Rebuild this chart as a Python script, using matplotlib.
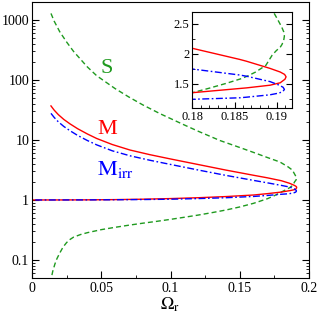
import matplotlib
matplotlib.use('Agg')
import matplotlib.pyplot as plt
from matplotlib.ticker import FixedLocator, MultipleLocator, FormatStrFormatter, NullFormatter, LogLocator

plt.rcParams['font.family'] = ['Liberation Serif', 'DejaVu Serif']
plt.rcParams['mathtext.fontset'] = 'stix'

# M : upper branch (Omega increasing) then lower branch back to 0
om_m_up = [0.0137, 0.016, 0.019, 0.023, 0.0274, 0.033, 0.040, 0.0467, 0.058, 0.0708, 0.085,
           0.0996, 0.120, 0.140, 0.160, 0.170, 0.180, 0.1856, 0.1864, 0.1892, 0.1904,
           0.19092, 0.1911]
m_up = [37.0, 31.5, 26.5, 22.0, 18.6, 15.4, 12.6, 10.6, 8.4, 6.8, 5.7,
        4.85, 3.9, 3.15, 2.58, 2.34, 2.095, 1.91, 1.88, 1.76, 1.70,
        1.66, 1.62]
om_m_lo = [0.19097, 0.1904, 0.1892, 0.1864, 0.1856, 0.1800, 0.1700, 0.1600, 0.1400, 0.1200,
           0.1000, 0.0800, 0.0600, 0.0400, 0.0200, 0.0]
m_lo = [1.58, 1.52, 1.48, 1.435, 1.425, 1.355, 1.275, 1.21, 1.14, 1.09,
        1.055, 1.03, 1.014, 1.005, 1.001, 1.0]

# M_irr
om_mi_up = [0.0137, 0.016, 0.019, 0.023, 0.0274, 0.033, 0.040, 0.0467, 0.058, 0.0708, 0.085,
            0.0996, 0.120, 0.140, 0.160, 0.170, 0.180, 0.1856, 0.1864, 0.1892, 0.1903,
            0.19075, 0.1909]
mi_up = [27.8, 23.8, 20.1, 16.8, 14.3, 11.9, 9.8, 8.3, 6.6, 5.45, 4.6,
         3.93, 3.16, 2.57, 2.12, 1.93, 1.75, 1.65, 1.63, 1.54, 1.48,
         1.445, 1.41]
om_mi_lo = [0.19075, 0.1903, 0.1892, 0.1864, 0.1856, 0.1800, 0.1700, 0.1600, 0.1400, 0.1200,
            0.1000, 0.0800, 0.0600, 0.0400, 0.0200, 0.0]
mi_lo = [1.38, 1.35, 1.32, 1.28, 1.27, 1.245, 1.19, 1.145, 1.09, 1.055,
         1.03, 1.017, 1.008, 1.003, 1.001, 1.0]

# S
om_s_up = [0.0137, 0.016, 0.020, 0.025, 0.030, 0.040, 0.0467, 0.060, 0.070, 0.080, 0.0924,
           0.100, 0.110, 0.120, 0.1357, 0.150, 0.160, 0.170, 0.179, 0.185, 0.188,
           0.18956, 0.1900, 0.19035, 0.19058, 0.19082, 0.1909]
s_up = [1290, 960, 640, 430, 300, 165, 118, 72, 52, 38.5, 27.5,
        22.8, 17.8, 14.0, 9.8, 7.5, 6.2, 5.1, 4.3, 3.55, 3.15,
        2.71, 2.60, 2.51, 2.45, 2.37, 2.30]
om_s_lo = [0.19082, 0.19062, 0.19044, 0.1899, 0.18945, 0.1887, 0.1875, 0.1865, 0.1857, 0.184,
           0.182, 0.180, 0.175, 0.170, 0.160, 0.150, 0.140, 0.130, 0.120, 0.110,
           0.100, 0.090, 0.080, 0.070, 0.060, 0.050, 0.040, 0.035, 0.030, 0.0275,
           0.025, 0.0225, 0.020, 0.018, 0.0165, 0.015, 0.0137]
s_lo = [2.23, 2.16, 2.12, 2.05, 1.98, 1.81, 1.70, 1.63, 1.585, 1.51,
        1.43, 1.355, 1.18, 1.05, 0.88, 0.765, 0.68, 0.615, 0.56, 0.515,
        0.475, 0.44, 0.41, 0.38, 0.35, 0.32, 0.285, 0.265, 0.24, 0.22,
        0.195, 0.165, 0.13, 0.105, 0.085, 0.065, 0.047]

red = '#ff0000'
blue = '#0000ff'
green = '#1f9a1f'

curves = [
    (om_s_up + om_s_lo, s_up + s_lo, green, (0, (3.6, 2.2))),
    (om_m_up + om_m_lo, m_up + m_lo, red, '-'),
    (om_mi_up + om_mi_lo, mi_up + mi_lo, blue, (0, (5, 1.8, 1.2, 1.8))),
]

fig = plt.figure(figsize=(3.19, 3.14), dpi=100)
ax = fig.add_axes([32/319, 1-278/314, 277/319, 276/314])

for x, y, c, ls in curves:
    ax.plot(x, y, color=c, ls=ls, lw=1.0)

ax.set_yscale('log')
ax.set_xlim(0, 0.2)
ax.set_ylim(0.05, 2000)
ax.xaxis.set_major_locator(MultipleLocator(0.05))
ax.xaxis.set_minor_locator(MultipleLocator(0.025))
ax.xaxis.set_major_formatter(FormatStrFormatter('%g'))
ax.yaxis.set_major_locator(FixedLocator([0.1, 1, 10, 100, 1000]))
ax.yaxis.set_major_formatter(FormatStrFormatter('%g'))
ax.yaxis.set_minor_locator(LogLocator(base=10, subs=range(2, 10)))
ax.yaxis.set_minor_formatter(NullFormatter())
ax.tick_params(which='both', direction='in', right=True, top=False, labelsize=10)
ax.tick_params(which='major', length=5, width=0.8)
ax.tick_params(which='minor', length=2.5, width=0.6)
ax.tick_params(axis='y', pad=2)
ax.tick_params(axis='x', pad=3)
ax.set_xlabel(r'$\Omega_{\mathrm{r}}$', fontsize=13, labelpad=0)

ax.text(0.0491, 131, 'S', color=green, fontsize=16, ha='left', va='baseline')
ax.text(0.0469, 12.8, 'M', color=red, fontsize=16, ha='left', va='baseline')
ax.text(0.0469, 2.61, r'$\mathrm{M}_{\mathrm{irr}}$', color=blue, fontsize=16, ha='left', va='baseline')

# inset
ins = fig.add_axes([192.3/319, 1-108/314, 99.7/319, 96/314])
for x, y, c, ls in curves:
    ins.plot(x, y, color=c, ls=ls, lw=1.0)
ins.set_xlim(0.18, 0.1918)
ins.set_ylim(1.1, 2.7)
ins.xaxis.set_major_locator(MultipleLocator(0.005))
ins.xaxis.set_minor_locator(MultipleLocator(0.001))
ins.xaxis.set_major_formatter(FormatStrFormatter('%g'))
ins.yaxis.set_major_locator(MultipleLocator(0.5))
ins.yaxis.set_minor_locator(MultipleLocator(0.25))
ins.yaxis.set_major_formatter(FormatStrFormatter('%g'))
ins.tick_params(which='both', direction='in', right=True, top=False, labelsize=9, pad=2)
ins.tick_params(which='major', length=4, width=0.8)
ins.tick_params(which='minor', length=2, width=0.6)

plt.savefig('out.png', dpi=100)
